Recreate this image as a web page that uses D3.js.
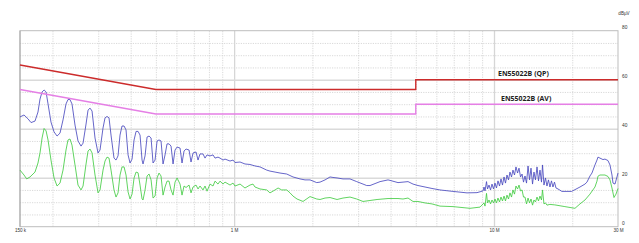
<!DOCTYPE html>
<html><head><meta charset="utf-8">
<script src="https://cdn.jsdelivr.net/npm/d3@7"></script>
<style>body{margin:0;background:#fff}svg{display:block}</style>
</head><body><svg id="c" width="639" height="243"></svg>
<script>
// Measured trace (QP, blue) — frequency in MHz, level in dBµV
const blueFreq=[0.150,0.1554,0.1611,0.1654,0.1713,0.1759,0.1791,0.1824,0.1857,0.1890,
0.1923,0.1974,0.2028,0.2083,0.2138,0.2196,0.2255,0.2295,0.2336,0.2378,
0.2442,0.2508,0.2576,0.2622,0.2693,0.2741,0.2790,0.2840,0.2916,0.2995,
0.3048,0.3130,0.3186,0.3243,0.3301,0.3360,0.3450,0.3512,0.3575,0.3639,
0.3704,0.3771,0.3838,0.3907,0.3977,0.4048,0.4121,0.4195,0.4270,0.4345,
0.4423,0.4462,0.4542,0.4624,0.4706,0.4791,0.4876,0.4964,0.5053,0.5141,
0.5233,0.5327,0.5422,0.5519,0.5618,0.5718,0.5821,0.5925,0.6031,0.6193,
0.6303,0.6416,0.6532,0.6707,0.6826,0.6949,0.7135,0.7263,0.7393,0.7591,
0.7727,0.7866,0.8078,0.8295,0.8443,0.8670,0.8825,0.9063,0.9225,0.9643,
0.9903,1.008,1.054,1.101,1.151,1.203,1.258,1.335,1.374,1.437,
1.502,1.594,1.685,1.793,1.874,1.959,2.079,2.141,2.238,2.339,
2.401,2.489,2.624,2.792,2.963,3.133,3.237,3.334,3.485,3.643,
3.910,3.980,4.272,4.466,4.668,4.880,5.100,5.427,5.772,6.197,
6.955,7.873,8.601,9.073,
9.153,9.235,9.358,9.442,9.567,9.695,9.824,9.956,10.09,10.22,
10.36,10.50,10.64,10.78,10.93,11.07,11.22,11.37,11.52,11.68,
11.83,11.99,12.15,12.32,12.48,12.65,12.82,12.99,13.16,13.34,
13.52,13.70,13.88,14.07,14.25,14.44,14.64,14.83,15.03,15.23,
15.37,15.57,15.78,15.99,16.20,16.42,16.64,16.86,17.09,17.32,17.63,
18.25,19.89,21.42,22.39,
22.79,23.40,23.82,24.46,24.90,25.12,25.57,26.26,26.73,27.45,
27.94,28.44,28.70,29.21,29.73,30.00];
const blueDb=[44.8,45.6,44.0,42.5,43.1,46.8,52.1,55.0,55.8,55.0,
50.1,42.7,38.7,37.0,38.2,43.6,50.1,51.9,51.9,50.1,
41.5,35.0,32.9,34.1,41.9,47.6,48.4,47.2,36.2,30.1,
31.3,40.3,44.4,45.0,44.4,37.4,28.0,27.2,28.9,37.4,
41.1,41.1,39.5,29.3,26.0,27.6,35.4,38.9,38.9,37.4,
27.2,25.6,28.9,36.6,37.0,36.2,26.0,27.2,35.0,35.4,
35.0,25.6,29.3,33.8,33.8,32.9,25.6,31.3,32.5,32.1,
26.0,30.9,31.7,31.3,26.4,30.1,30.5,27.2,29.7,29.7,
28.0,29.3,28.9,29.3,28.0,28.4,28.0,27.2,27.6,26.8,
27.2,26.2,26.4,25.6,25.4,24.8,24.4,23.1,22.7,22.3,
21.9,21.5,20.3,19.5,19.1,19.1,18.0,18.2,19.1,20.3,
20.1,19.9,19.5,19.5,18.4,17.4,16.8,16.8,17.6,18.4,
19.1,18.9,18.0,18.2,18.4,17.4,16.8,16.2,15.6,15.0,
14.4,13.8,13.9,14.6,
16.2,14.6,18.4,15.4,17.0,15.0,17.4,15.4,17.8,15.8,
18.7,16.6,19.5,17.0,20.3,17.8,21.1,19.1,22.3,20.3,
23.1,21.1,24.4,21.9,23.9,20.3,21.5,18.2,20.7,17.8,
24.8,19.1,23.9,17.4,22.3,19.1,24.4,18.7,23.1,18.2,
25.2,17.0,19.9,16.6,19.1,16.2,18.7,16.2,18.2,15.8,15.4,
14.4,14.4,16.2,17.4,
18.2,20.7,21.9,25.2,27.2,28.4,28.0,27.4,27.6,27.0,
25.2,21.1,17.8,17.4,20.3,21.9];

// Measured trace (AV, green)
const greenFreq=[0.150,0.1554,0.1592,0.1639,0.1713,0.1759,0.1791,0.1824,0.1857,0.1890,
0.1923,0.1974,0.2028,0.2083,0.2138,0.2196,0.2255,0.2295,0.2336,0.2378,
0.2442,0.2508,0.2576,0.2622,0.2693,0.2741,0.2790,0.2840,0.2916,0.2995,
0.3048,0.3130,0.3186,0.3243,0.3301,0.3360,0.3450,0.3512,0.3575,0.3639,
0.3704,0.3771,0.3838,0.3907,0.3977,0.4048,0.4121,0.4195,0.4270,0.4345,
0.4423,0.4462,0.4542,0.4624,0.4706,0.4791,0.4876,0.4964,0.5053,0.5141,
0.5233,0.5327,0.5422,0.5519,0.5618,0.5718,0.5821,0.5925,0.6031,0.6193,
0.6303,0.6416,0.6532,0.6707,0.6826,0.6949,0.7135,0.7263,0.7393,0.7591,
0.7727,0.7866,0.8078,0.8295,0.8443,0.8670,0.8825,0.9063,0.9225,0.9643,
0.9903,1.008,1.054,1.101,1.151,1.182,1.203,1.258,1.335,1.374,
1.437,1.476,1.524,1.594,1.641,1.685,1.746,1.841,1.959,2.079,
2.141,2.238,2.339,2.489,2.624,2.792,2.963,3.133,3.334,3.548,
3.910,4.272,4.466,4.668,4.880,5.100,5.427,5.772,6.197,6.955,
8.085,8.834,
9.153,9.235,9.358,9.442,9.567,9.695,9.824,9.956,10.09,10.22,
10.36,10.50,10.64,10.78,10.93,11.07,11.22,11.37,11.52,11.68,
11.83,11.99,12.15,12.32,12.48,12.65,12.82,12.99,13.16,13.34,
13.52,13.70,13.88,14.07,14.25,14.44,14.64,14.83,15.03,15.23,
15.37,15.57,15.78,15.99,
16.41,17.15,18.74,20.49,
21.42,22.39,23.40,24.46,24.90,25.12,25.57,26.73,27.45,27.94,
28.44,28.95,29.47,30.00];
const greenDb=[23.1,21.1,19.5,20.3,22.3,26.0,30.1,36.2,40.1,39.1,
35.4,27.2,19.9,16.6,17.8,23.1,31.3,35.4,35.8,33.3,
25.2,17.0,15.0,16.6,25.6,30.9,31.7,30.1,21.1,13.8,
15.0,23.1,26.8,28.4,28.0,23.1,15.0,12.1,13.8,21.1,
24.4,24.4,21.1,14.2,11.3,13.3,19.9,22.3,22.0,17.0,
11.3,10.9,15.0,20.7,21.5,19.1,11.7,12.5,19.9,21.9,
20.7,12.9,16.2,18.6,18.6,15.0,12.9,18.2,19.9,17.4,
12.9,16.6,16.0,17.0,13.8,16.2,17.0,15.4,16.6,15.0,
16.6,14.5,17.4,16.6,18.6,17.4,18.6,17.4,18.2,17.0,
17.8,16.6,17.4,15.8,17.0,17.4,16.2,15.4,15.0,13.8,
15.0,15.8,15.0,15.0,13.8,12.5,11.3,10.3,12.3,11.3,
11.1,11.7,11.9,11.1,11.7,12.1,11.3,10.3,10.7,11.1,
11.5,11.5,11.3,11.7,10.3,10.3,9.7,9.3,8.4,8.2,
7.5,8.0,
9.7,8.4,13.6,9.7,10.9,9.3,10.9,9.7,11.3,9.7,
11.7,10.1,12.1,10.5,12.5,10.5,12.9,11.3,13.8,12.1,
15.0,13.3,16.6,15.4,17.0,14.6,15.0,12.1,12.1,9.3,
11.7,9.7,11.3,8.8,10.9,10.1,12.1,10.5,12.5,10.9,
15.0,9.3,9.7,8.8,
9.1,8.9,8.2,7.5,
9.3,10.9,13.3,16.2,18.6,20.6,21.1,21.1,20.5,19.1,
15.8,11.9,13.3,15.6];

// Limit lines EN55022 class B
const qpFreq=[0.15,0.5,5,5,30];
const qpDb=[66,56,56,60,60];
const avFreq=[0.15,0.5,5,5,30];
const avDb=[56,46,46,50,50];
const limitNames=["EN55022B (QP)","EN55022B (AV)"];

// Axis ticks
const xLabelTicks=[0.15,1,10,30];
const xLabelText=["150 k","1 M","10 M","30 M"];
const xMajorGrid=[1,10];
const xMinorGrid=[0.2,0.3,0.4,0.5,0.6,0.7,0.8,0.9,2,3,4,5,6,7,8,9,20];
const yLabelTicks=[0,20,40,60,80];
const yMajorGrid=[20,40,60];
const yMinorGrid=[5,10,15,25,30,35,45,50,55,65,70,75];
const yUnit="dBµV";

const svg=d3.select("#c");
const L=20,R=618,T=30.7,B=226.7;
const x=d3.scaleLog().domain([0.15,30]).range([L,R]);
const y=d3.scaleLinear().domain([0,80]).range([B,T]);

// minor grid
svg.append("g").attr("transform",`translate(0,${B})`)
  .call(d3.axisBottom(x).tickValues(xMinorGrid).tickSize(-(B-T)).tickFormat(""))
  .call(g=>{g.select(".domain").remove();g.selectAll("line").attr("stroke","#cfcfcf").attr("stroke-width",0.8).attr("stroke-dasharray","1.2,1.2");});
svg.append("g").attr("transform",`translate(${L},0)`)
  .call(d3.axisLeft(y).tickValues(yMinorGrid).tickSize(-(R-L)).tickFormat(""))
  .call(g=>{g.select(".domain").remove();g.selectAll("line").attr("stroke","#cfcfcf").attr("stroke-width",0.8).attr("stroke-dasharray","1.2,1.2");});
// major grid
svg.append("g").attr("transform",`translate(0,${B})`)
  .call(d3.axisBottom(x).tickValues(xMajorGrid).tickSize(-(B-T)).tickFormat(""))
  .call(g=>{g.select(".domain").remove();g.selectAll("line").attr("stroke","#d6d6d6").attr("stroke-width",1.3);});
svg.append("g").attr("transform",`translate(${L},0)`)
  .call(d3.axisLeft(y).tickValues(yMajorGrid).tickSize(-(R-L)).tickFormat(""))
  .call(g=>{g.select(".domain").remove();g.selectAll("line").attr("stroke","#dadada").attr("stroke-width",1.6);});

// frame
svg.append("rect").attr("x",L).attr("y",T).attr("width",R-L).attr("height",B-T)
  .attr("fill","none").attr("stroke","#bdbdbd").attr("stroke-width",1);
svg.append("line").attr("x1",L).attr("x2",L).attr("y1",T).attr("y2",B).attr("stroke","#a8a8a8").attr("stroke-width",1);

// axis labels
svg.append("g").attr("transform",`translate(0,${B})`)
  .call(d3.axisBottom(x).tickValues(xLabelTicks).tickSize(0).tickPadding(2).tickFormat((d,i)=>xLabelText[i]))
  .call(g=>{g.select(".domain").remove();g.selectAll("text").attr("font-family","Arial, 'Liberation Sans', sans-serif").attr("font-size",4.6).attr("fill","#333");});
svg.append("g").attr("transform",`translate(${R},0)`)
  .call(d3.axisRight(y).tickValues(yLabelTicks).tickSize(0).tickPadding(4))
  .call(g=>{g.select(".domain").remove();g.selectAll("text").attr("font-family","Arial, 'Liberation Sans', sans-serif").attr("font-size",4.8).attr("fill","#333").attr("dy","-0.5em");});
svg.append("text").attr("x",R+6).attr("y",15).attr("text-anchor","middle")
  .attr("font-family","Arial, 'Liberation Sans', sans-serif").attr("font-size",4.6).attr("fill","#333").text(yUnit);

const line=d3.line().x(d=>x(d[0])).y(d=>y(d[1]));
const zipN=(a,b)=>d3.range(Math.min(a.length,b.length)).map(i=>[a[i],b[i]]);

svg.append("path").datum(zipN(greenFreq,greenDb)).attr("d",line)
  .attr("fill","none").attr("stroke","#45cc45").attr("stroke-width",0.85).attr("stroke-linejoin","round");
svg.append("path").datum(zipN(blueFreq,blueDb)).attr("d",line)
  .attr("fill","none").attr("stroke","#4a4abf").attr("stroke-width",0.85).attr("stroke-linejoin","round");

svg.append("path").datum(zipN(avFreq,avDb)).attr("d",line)
  .attr("fill","none").attr("stroke","#e57fe5").attr("stroke-width",1.4);
svg.append("path").datum(zipN(qpFreq,qpDb)).attr("d",line)
  .attr("fill","none").attr("stroke","#cc2b2b").attr("stroke-width",1.4);

svg.append("text").attr("x",x(10)+4).attr("y",y(60)-4.2)
  .attr("font-family","'Open Sans', sans-serif").attr("font-weight","bold").attr("font-size",7).attr("fill","#222").text(limitNames[0]);
svg.append("text").attr("x",x(10)+7).attr("y",y(50)-2.8)
  .attr("font-family","'Open Sans', sans-serif").attr("font-weight","bold").attr("font-size",7).attr("fill","#222").text(limitNames[1]);
</script></body></html>
